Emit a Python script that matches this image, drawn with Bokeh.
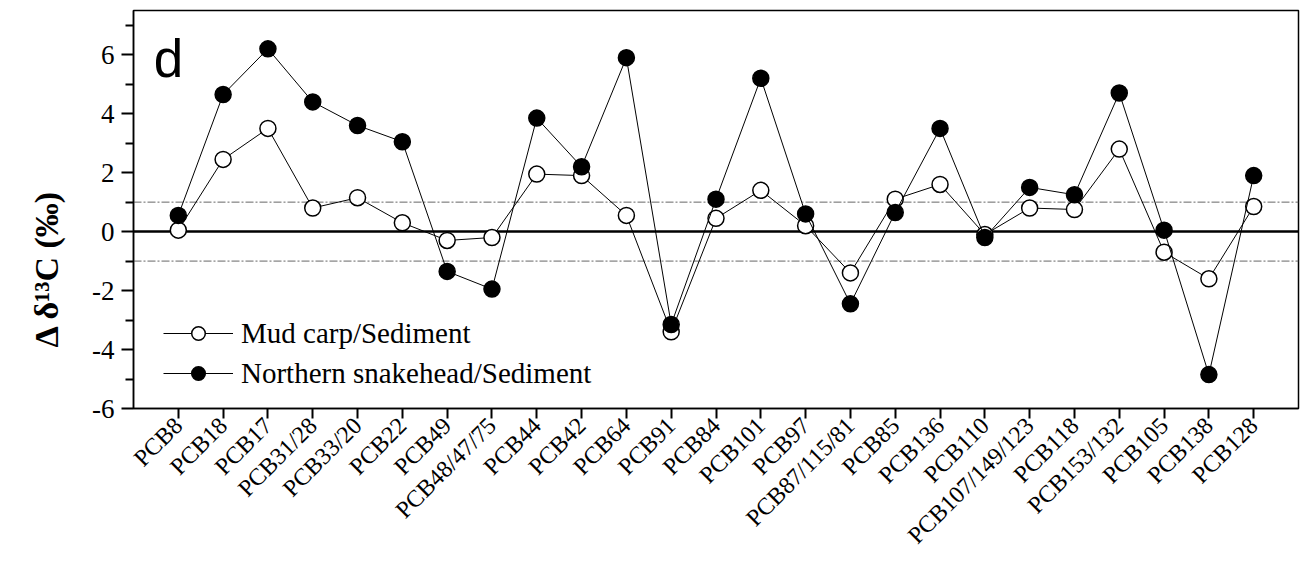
import math
from bokeh.plotting import figure
from bokeh.models import (Range1d, FixedTicker, Span, Legend, LegendItem,
                          ColumnDataSource, Label, Title)
from bokeh.embed import file_html
from bokeh.resources import INLINE

categories = ["PCB8", "PCB18", "PCB17", "PCB31/28", "PCB33/20", "PCB22", "PCB49",
              "PCB48/47/75", "PCB44", "PCB42", "PCB64", "PCB91", "PCB84", "PCB101",
              "PCB97", "PCB87/115/81", "PCB85", "PCB136", "PCB110", "PCB107/149/123",
              "PCB118", "PCB153/132", "PCB105", "PCB138", "PCB128"]
mud_carp = [0.05, 2.45, 3.5, 0.8, 1.15, 0.3, -0.3, -0.2, 1.95, 1.9, 0.55, -3.4,
            0.45, 1.4, 0.2, -1.4, 1.1, 1.6, -0.1, 0.8, 0.75, 2.8, -0.7, -1.6, 0.85]
snakehead = [0.55, 4.65, 6.2, 4.4, 3.6, 3.05, -1.35, -1.95, 3.85, 2.2, 5.9, -3.15,
             1.1, 5.2, 0.6, -2.45, 0.65, 3.5, -0.2, 1.5, 1.25, 4.7, 0.05, -4.85, 1.9]
y_ticks = [-6, -4, -2, 0, 2, 4, 6]
y_minor = [-5, -3, -1, 1, 3, 5, 7]

xs = list(range(1, len(categories) + 1))
src = ColumnDataSource(dict(x=xs, mud=mud_carp, snake=snakehead))

SERIF = "Liberation Serif"

p = figure(width=1300, height=561, output_backend="svg", toolbar_location=None,
           x_range=Range1d(0, len(categories) + 1), y_range=Range1d(-6, 7.5),
           min_border_left=133, min_border_right=2, min_border_top=10,
           min_border_bottom=153)
p.outline_line_color = "black"
p.outline_line_width = 1.5
p.outline_line_alpha = 1
p.xgrid.visible = False
p.ygrid.visible = False
p.background_fill_color = "white"
p.border_fill_color = "white"

p.add_layout(Span(location=0, dimension="width", line_color="black",
                  line_width=2.5, level="underlay"))
for loc in (1, -1):
    p.add_layout(Span(location=loc, dimension="width", line_color="#666666",
                      line_width=1, line_dash="8 2 2 2", level="underlay"))

l1 = p.line("x", "mud", source=src, line_color="black", line_width=1)
s1 = p.scatter("x", "mud", source=src, marker="circle", size=16,
               fill_color="white", line_color="black", line_width=1.5)
l2 = p.line("x", "snake", source=src, line_color="black", line_width=1)
s2 = p.scatter("x", "snake", source=src, marker="circle", size=16,
               fill_color="black", line_color="black", line_width=1.5)

legend = Legend(items=[LegendItem(label="Mud carp/Sediment", renderers=[l1, s1]),
                       LegendItem(label="Northern snakehead/Sediment", renderers=[l2, s2])],
                location=(26, 14), border_line_alpha=0, background_fill_alpha=0,
                label_text_font=SERIF, label_text_font_size="29px",
                label_text_color="black",
                glyph_width=70, glyph_height=34, label_height=34, spacing=6,
                padding=4, label_standoff=8)
p.add_layout(legend)

p.add_layout(Label(x=0.45, y=5.87, text="d", text_font="Liberation Sans",
                   text_font_size="53px", text_color="black",
                   text_baseline="alphabetic"))

# y-axis title (sits lower than the frame centre, as in the original)
p.add_layout(Title(text="Δ δ¹³C (‰)", align="left", offset=61, standoff=50,
                   text_font=SERIF, text_font_style="bold",
                   text_font_size="34px", text_color="black"), "left")

# axes
p.yaxis.ticker = FixedTicker(ticks=y_ticks, minor_ticks=y_minor)
p.yaxis.major_label_overrides = {t: str(t) for t in y_ticks}
p.xaxis.ticker = FixedTicker(ticks=xs)
p.xaxis.major_label_overrides = {i: c for i, c in zip(xs, categories)}
p.xaxis.major_label_orientation = math.pi / 4
for ax in (p.xaxis, p.yaxis):
    ax.axis_line_color = "black"
    ax.axis_line_width = 1.5
    ax.major_tick_line_color = "black"
    ax.major_tick_line_width = 2
    ax.minor_tick_line_color = "black"
    ax.minor_tick_line_width = 2
    ax.major_tick_in = 0
    ax.minor_tick_out = 8
    ax.minor_tick_in = 0
    ax.major_label_text_font = SERIF
    ax.major_label_text_color = "black"
p.yaxis.major_tick_out = 12
p.yaxis.major_label_standoff = 7
p.xaxis.major_tick_out = 10
p.xaxis.major_label_text_font_size = "24px"
p.xaxis.major_label_standoff = 3
p.yaxis.major_label_text_font_size = "27px"
p.xaxis.minor_tick_line_color = None

open("out.html", "w").write(file_html(p, INLINE))
